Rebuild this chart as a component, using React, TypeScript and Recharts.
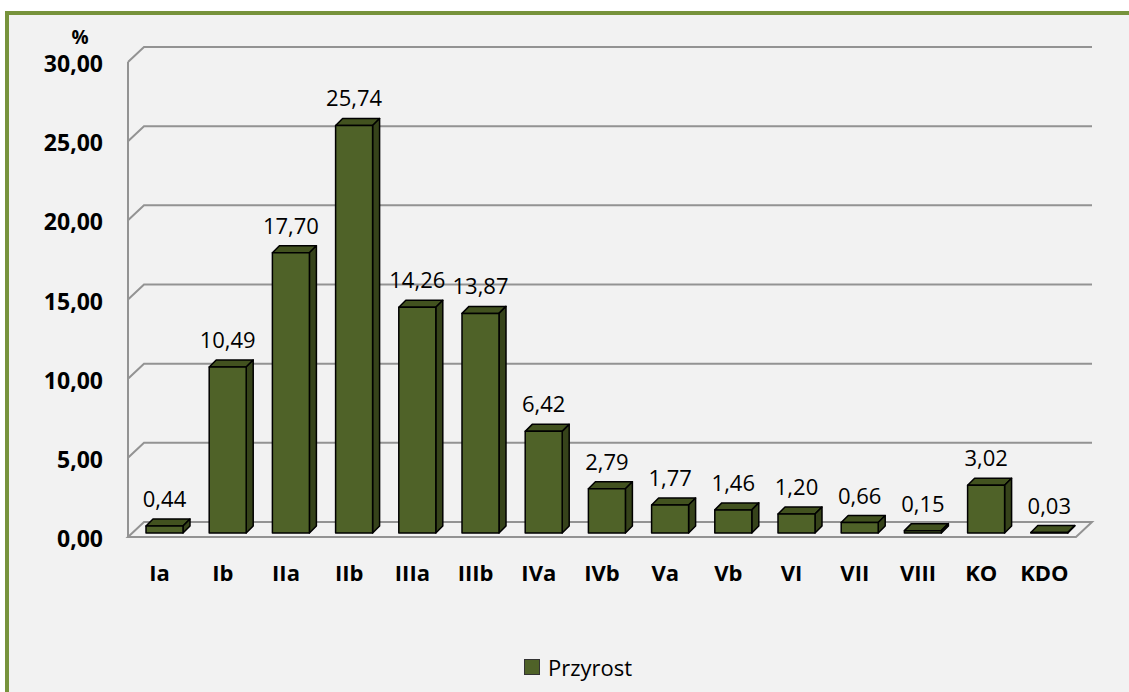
import { BarChart, Bar, XAxis, YAxis, CartesianGrid, LabelList, Legend } from 'recharts';

const categories = ['Ia', 'Ib', 'IIa', 'IIb', 'IIIa', 'IIIb', 'IVa', 'IVb', 'Va', 'Vb', 'VI', 'VII', 'VIII', 'KO', 'KDO'];
const przyrost = [0.44, 10.49, 17.7, 25.74, 14.26, 13.87, 6.42, 2.79, 1.77, 1.46, 1.2, 0.66, 0.15, 3.02, 0.03];
const yTicks = [0, 5, 10, 15, 20, 25, 30];

const data = categories.map((name, i) => ({ name, przyrost: przyrost[i] }));

const FONT = '"Open Sans", "Noto Sans", sans-serif';
const FRONT = '#4f6228';
const TOP = '#42521f';
const SIDE = '#36431a';
const GRID = '#939393';

// 3d look: back wall offset, bar offset from the category band, bar depth
const WALL_DX = 16;
const WALL_DY = 15;
const BAR_DX = 5;
const BAR_DY = 4;
const DEPTH = 7;

const fmt = (v: number) => v.toFixed(2).replace('.', ',');

const Box3D = (props: any) => {
  const { x, y, width, height } = props;
  const fx = x + BAR_DX;
  const fy = y - BAR_DY;
  const h = Math.max(height, 0);
  const rx = fx + width;
  return (
    <g stroke="#000" strokeWidth={1.5} strokeLinejoin="round">
      <polygon points={`${fx},${fy} ${fx + DEPTH},${fy - DEPTH} ${rx + DEPTH},${fy - DEPTH} ${rx},${fy}`} fill={TOP} />
      <polygon points={`${rx},${fy} ${rx + DEPTH},${fy - DEPTH} ${rx + DEPTH},${fy + h - DEPTH} ${rx},${fy + h}`} fill={SIDE} />
      <rect x={fx} y={fy} width={width} height={h} fill={FRONT} />
    </g>
  );
};

const ValueLabel = (props: any) => {
  const { x, y, width, value } = props;
  return (
    <text x={x + BAR_DX + width / 2} y={y - BAR_DY - 19} textAnchor="middle" fontFamily={FONT} fontSize={22} fill="#000">
      {fmt(value)}
    </text>
  );
};

const GridLine = (props: any) => {
  const { x1, y1, x2, y, height, index } = props;
  const by = y1 - WALL_DY;
  const isFloor = Math.abs(y1 - (y + height)) < 0.5;
  const d = isFloor
    ? `M${x1},${y1} L${x2},${y1} L${x2 + WALL_DX},${by} L${x1 + WALL_DX},${by} Z`
    : `M${x1},${y1} L${x1 + WALL_DX},${by} L${x2 + WALL_DX},${by}`;
  return <path key={`g-${index}`} d={d} fill="none" stroke={GRID} strokeWidth={2} />;
};

const YTick = (props: any) => {
  const { x, y, payload } = props;
  return (
    <text x={x} y={y + 10} textAnchor="end" fontFamily={FONT} fontSize={23} fontWeight="bold" fill="#000">
      {fmt(payload.value)}
    </text>
  );
};

const XTick = (props: any) => {
  const { x, y, payload } = props;
  return (
    <text x={x} y={y + 44} textAnchor="middle" fontFamily={FONT} fontSize={22} fontWeight="bold" fill="#000">
      {payload.value}
    </text>
  );
};

const LegendContent = () => (
  <div style={{ display: 'flex', alignItems: 'center', fontFamily: FONT, fontSize: 22, color: '#000' }}>
    <span style={{ width: 14, height: 14, background: FRONT, border: '1px solid #333', marginRight: 8 }} />
    <span>Przyrost</span>
  </div>
);

export default function App() {
  return (
    <div
      style={{
        position: 'absolute',
        left: 5,
        top: 11,
        width: 1124,
        height: 681,
        boxSizing: 'border-box',
        borderTop: '4px solid #77933c',
        borderLeft: '4px solid #77933c',
        background: '#f2f2f2',
      }}
    >
      <BarChart width={1120} height={677} data={data} margin={{ top: 47, right: 53, bottom: 95, left: 0 }}>
        <CartesianGrid vertical={false} horizontal={GridLine} />
        <XAxis dataKey="name" height={60} axisLine={false} tickLine={false} tickSize={0} tickMargin={0} tick={<XTick />} interval={0} />
        <YAxis
          width={119}
          domain={[0, 30]}
          ticks={yTicks}
          axisLine={{ stroke: GRID, strokeWidth: 2 }}
          tickLine={false}
          tickSize={0}
          tickMargin={25}
          tick={<YTick />}
          label={({ viewBox }: any) => (
            <text x={viewBox.x + 71} y={viewBox.y - 18} textAnchor="middle" fontFamily={FONT} fontSize={19} fontWeight="bold" fill="#000">
              %
            </text>
          )}
        />
        <Legend
          verticalAlign="middle"
          align="center"
          content={<LegendContent />}
          wrapperStyle={{ position: 'absolute', left: 515, top: 637, width: 'auto', height: 'auto' }}
        />
        <Bar dataKey="przyrost" name="Przyrost" barSize={37} shape={<Box3D />} isAnimationActive={false}>
          <LabelList dataKey="przyrost" content={<ValueLabel />} />
        </Bar>
      </BarChart>
    </div>
  );
}
